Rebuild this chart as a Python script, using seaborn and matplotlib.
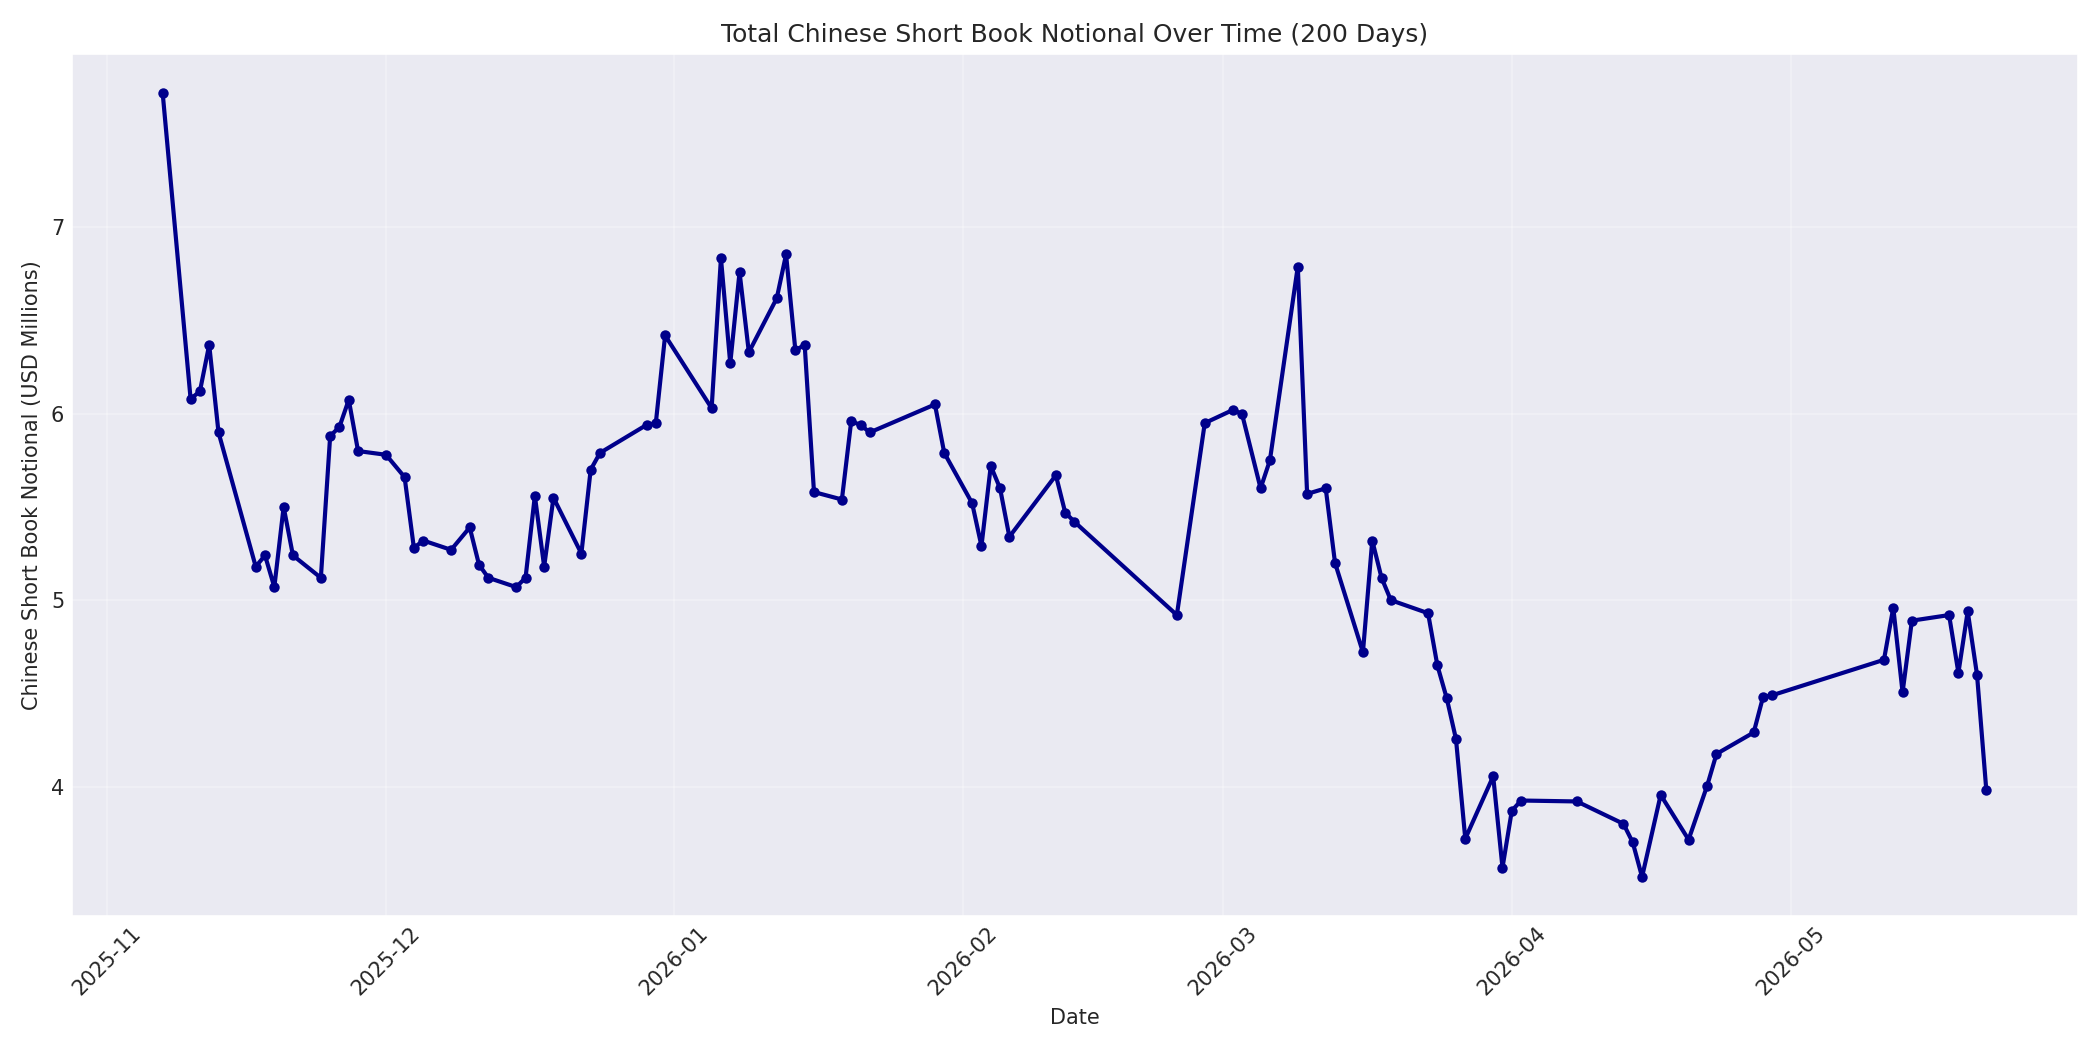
import seaborn as sns
import matplotlib.pyplot as plt
import pandas as pd

dates = [
    "2025-11-07", "2025-11-10", "2025-11-11", "2025-11-12", "2025-11-13",
    "2025-11-17", "2025-11-18", "2025-11-19", "2025-11-20", "2025-11-21",
    "2025-11-24", "2025-11-25", "2025-11-26", "2025-11-27", "2025-11-28",
    "2025-12-01", "2025-12-03", "2025-12-04", "2025-12-05", "2025-12-08",
    "2025-12-10", "2025-12-11", "2025-12-12", "2025-12-15", "2025-12-16",
    "2025-12-17", "2025-12-18", "2025-12-19", "2025-12-22", "2025-12-23",
    "2025-12-24", "2025-12-29", "2025-12-30", "2025-12-31", "2026-01-05",
    "2026-01-06", "2026-01-07", "2026-01-08", "2026-01-09", "2026-01-12",
    "2026-01-13", "2026-01-14", "2026-01-15", "2026-01-16", "2026-01-19",
    "2026-01-20", "2026-01-21", "2026-01-22", "2026-01-29", "2026-01-30",
    "2026-02-02", "2026-02-03", "2026-02-04", "2026-02-05", "2026-02-06",
    "2026-02-11", "2026-02-12", "2026-02-13", "2026-02-24", "2026-02-27",
    "2026-03-02", "2026-03-03", "2026-03-05", "2026-03-06", "2026-03-09",
    "2026-03-10", "2026-03-12", "2026-03-13", "2026-03-16", "2026-03-17",
    "2026-03-18", "2026-03-19", "2026-03-23", "2026-03-24", "2026-03-25",
    "2026-03-26", "2026-03-27", "2026-03-30", "2026-03-31", "2026-04-01",
    "2026-04-02", "2026-04-08", "2026-04-13", "2026-04-14", "2026-04-15",
    "2026-04-17", "2026-04-20", "2026-04-22", "2026-04-23", "2026-04-27",
    "2026-04-28", "2026-04-29", "2026-05-11", "2026-05-12", "2026-05-13",
    "2026-05-14", "2026-05-18", "2026-05-19", "2026-05-20", "2026-05-21",
    "2026-05-22",
]

notional = [
    7.72, 6.08, 6.12, 6.37, 5.90,
    5.18, 5.24, 5.07, 5.50, 5.24,
    5.12, 5.88, 5.93, 6.075, 5.80,
    5.78, 5.66, 5.28, 5.32, 5.27,
    5.39, 5.19, 5.12, 5.07, 5.12,
    5.56, 5.18, 5.55, 5.25, 5.70,
    5.79, 5.94, 5.95, 6.42, 6.03,
    6.835, 6.27, 6.76, 6.33, 6.62,
    6.855, 6.34, 6.37, 5.58, 5.54,
    5.96, 5.94, 5.90, 6.05, 5.79,
    5.52, 5.29, 5.72, 5.60, 5.34,
    5.67, 5.47, 5.42, 4.92, 5.95,
    6.02, 6.00, 5.60, 5.75, 6.79,
    5.57, 5.60, 5.20, 4.72, 5.32,
    5.12, 5.00, 4.93, 4.65, 4.475,
    4.255, 3.72, 4.055, 3.565, 3.87,
    3.925, 3.92, 3.80, 3.70, 3.515,
    3.955, 3.715, 4.005, 4.175, 4.29,
    4.48, 4.49, 4.68, 4.96, 4.505,
    4.89, 4.92, 4.61, 4.94, 4.60,
    3.98,
]

df = pd.DataFrame({"date": pd.to_datetime(dates), "notional": notional})

sns.set_style("darkgrid", {"xtick.major.size": 0, "ytick.major.size": 0})
fig, ax = plt.subplots(figsize=(14, 7), dpi=150)

sns.lineplot(data=df, x="date", y="notional", marker="o", color="darkblue",
             linewidth=2, markersize=5, markeredgewidth=0, ax=ax)

ax.grid(True, alpha=0.3)
ax.tick_params(length=0)
ax.set_title("Total Chinese Short Book Notional Over Time (200 Days)")
ax.set_xlabel("Date")
ax.set_ylabel("Chinese Short Book Notional (USD Millions)")
plt.xticks(rotation=45)
plt.tight_layout()
plt.savefig("out.png")
